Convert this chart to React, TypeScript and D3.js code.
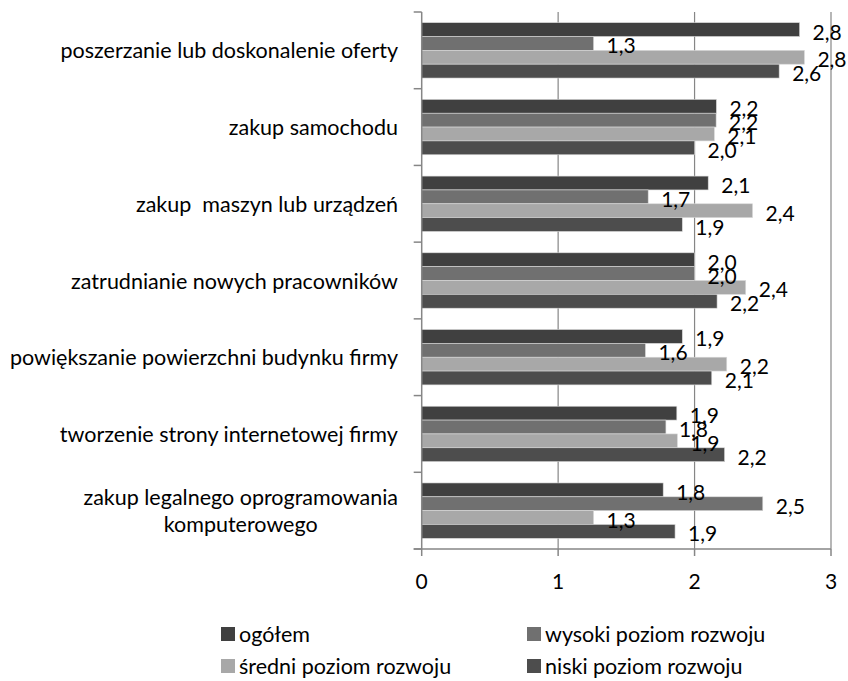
import React from "react";
import * as d3 from "d3";

const categories = [
  "poszerzanie lub doskonalenie oferty",
  "zakup samochodu",
  "zakup  maszyn lub urządzeń",
  "zatrudnianie nowych pracowników",
  "powiększanie powierzchni budynku firmy",
  "tworzenie strony internetowej firmy",
  "zakup legalnego oprogramowania\nkomputerowego",
];
const seriesNames = ["ogółem", "wysoki poziom rozwoju", "średni poziom rozwoju", "niski poziom rozwoju"];
const ogolem = [2.77, 2.16, 2.1, 2.0, 1.91, 1.87, 1.77];
const wysoki = [1.26, 2.158, 1.66, 2.0, 1.64, 1.79, 2.5];
const sredni = [2.805, 2.145, 2.425, 2.375, 2.236, 1.874, 1.26];
const niski = [2.62, 2.0, 1.91, 2.165, 2.126, 2.22, 1.857];
const xTicks = [0, 1, 2, 3];

const colors = ["#404040", "#707070", "#a8a8a8", "#4d4d4d"];
const FONT = "Lato, 'Open Sans', sans-serif";

function measure(text: string, size: number) {
  const c = document.createElement("canvas").getContext("2d")!;
  c.font = `${size}px Lato`;
  return c.measureText(text).width;
}

export default function App() {
  const W = 848, H = 681;
  const x = d3.scaleLinear().domain([0, 3]).range([421.7, 831]);
  const y = d3.scaleBand<string>().domain(categories).range([12, 549]).paddingInner(0.278).paddingOuter(0.139);
  const inner = d3.scaleBand<number>().domain([0, 1, 2, 3]).range([0, y.bandwidth()]);
  const series = [ogolem, wysoki, sredni, niski];
  const step = y.step();
  const top = 12, bottom = 549;
  const fmt = (v: number) => d3.format(".1f")(v).replace(".", ",");
  const catSize = 21.5;
  const labelSize = 21;
  const legendSize = 21.5;

  return (
    <svg width={W} height={H} style={{ position: "absolute", left: 0, top: 0, background: "#fff" }} fontFamily={FONT}>
      {xTicks.slice(1).map((t) => (
        <line key={"g" + t} x1={x(t)} x2={x(t)} y1={top} y2={bottom} stroke="#868686" strokeWidth={1.2} />
      ))}
      {categories.map((c, ci) => (
        <g key={c}>
          {series.map((s, si) => (
            <rect
              key={si}
              x={x(0)}
              y={(y(c) as number) + (inner(si) as number)}
              width={x(s[ci]) - x(0)}
              height={inner.bandwidth()}
              fill={colors[si]}
              stroke="#d9d9d9"
              strokeWidth={0.6}
            />
          ))}
        </g>
      ))}
      <line x1={x(0)} x2={x(0)} y1={top} y2={bottom} stroke="#868686" strokeWidth={1.5} />
      <line x1={x(0) - 8} x2={x(3)} y1={bottom} y2={bottom} stroke="#868686" strokeWidth={1.5} />
      {d3.range(categories.length + 1).map((i) => (
        <line key={"yt" + i} x1={x(0) - 8} x2={x(0)} y1={top + i * step} y2={top + i * step} stroke="#868686" strokeWidth={1.5} />
      ))}
      {xTicks.map((t) => (
        <g key={"xt" + t}>
          <line x1={x(t)} x2={x(t)} y1={bottom} y2={bottom + 7} stroke="#868686" strokeWidth={1.5} />
          <text x={x(t)} y={bottom + 31} textAnchor="middle" dominantBaseline="central" fontSize={labelSize} fill="#000">
            {t}
          </text>
        </g>
      ))}
      {categories.map((c, ci) =>
        series.map((s, si) => (
          <text
            key={c + si}
            x={x(s[ci]) + 13}
            y={(y(c) as number) + (inner(si) as number) + inner.bandwidth() / 2 + 1.5}
            dominantBaseline="central"
            fontSize={labelSize}
            fill="#000"
          >
            {fmt(s[ci])}
          </text>
        ))
      )}
      {categories.map((c) => {
        const lines = c.split("\n");
        const cy = (y(c) as number) + y.bandwidth() / 2;
        const lh = 27;
        const maxW = Math.max(...lines.map((l) => measure(l, catSize)));
        const cx = 398 - maxW / 2;
        return (
          <text key={"cl" + c} fontSize={catSize} fill="#000" textAnchor="middle" style={{ whiteSpace: "pre" }}>
            {lines.map((l, li) => (
              <tspan key={li} x={cx} y={cy + (li - (lines.length - 1) / 2) * lh} dominantBaseline="central">
                {l}
              </tspan>
            ))}
          </text>
        );
      })}
      {seriesNames.map((n, i) => {
        const lx = i % 2 === 0 ? 221 : 527;
        const ly = i < 2 ? 634 : 666;
        return (
          <g key={"lg" + n}>
            <rect x={lx} y={ly - 7} width={14} height={14} fill={colors[i]} />
            <text x={lx + 18} y={ly} dominantBaseline="central" fontSize={legendSize} fill="#000">
              {n}
            </text>
          </g>
        );
      })}
    </svg>
  );
}
